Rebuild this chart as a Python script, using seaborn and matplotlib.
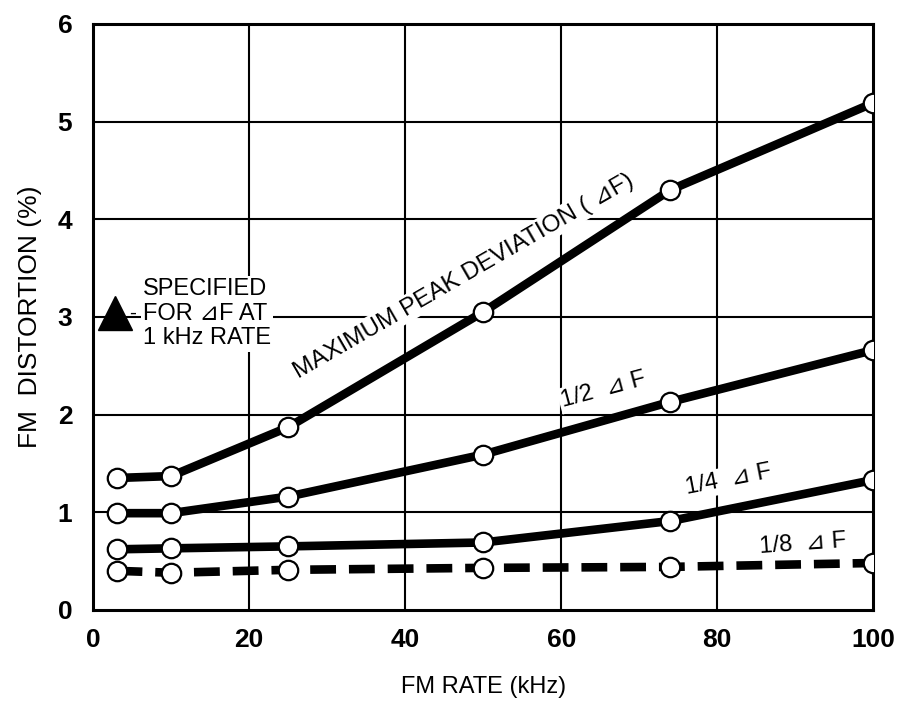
import matplotlib
matplotlib.use("Agg")
import matplotlib.pyplot as plt
import seaborn as sns
import pandas as pd

# FM distortion vs. FM rate for several deviation levels
rates = [3, 10, 25, 50, 74, 100]
max_dev = [1.35, 1.37, 1.87, 3.05, 4.30, 5.19]
half_dev = [0.99, 0.99, 1.16, 1.59, 2.13, 2.66]
quarter_dev = [0.62, 0.63, 0.65, 0.69, 0.91, 1.33]
eighth_dev = [0.40, 0.38, 0.41, 0.43, 0.44, 0.48]

series_names = ["MAX", "HALF", "QUARTER", "EIGHTH"]
series_values = [max_dev, half_dev, quarter_dev, eighth_dev]

x_ticks = [0, 20, 40, 60, 80, 100]
y_ticks = [0, 1, 2, 3, 4, 5, 6]

spec_rate = [2.8]
spec_value = [3.04]

sns.set_theme(style="white")
FONT = ["Liberation Sans", "DejaVu Sans"]
plt.rcParams["font.family"] = FONT
plt.rcParams["text.color"] = "black"
plt.rcParams["axes.labelcolor"] = "black"

frames = []
for name, vals in zip(series_names, series_values):
    frames.append(pd.DataFrame({"rate": rates, "distortion": vals, "series": name}))
df = pd.concat(frames, ignore_index=True)

fig = plt.figure(figsize=(9.04, 7.01), dpi=100)
ax = fig.add_axes([0.103, 0.130, 0.863, 0.836])

# grid lines
for gx in [20, 40, 60, 80]:
    ax.axvline(gx, color="black", lw=1.5, zorder=1)
for gy in [1, 2, 3, 4, 5]:
    ax.axhline(gy, color="black", lw=1.5, zorder=1)

# solid curves with open circle markers, dashed curve for 1/8 deviation
sns.lineplot(
    data=df, x="rate", y="distortion", hue="series", style="series",
    palette={n: "black" for n in series_names},
    dashes={"MAX": "", "HALF": "", "QUARTER": "", "EIGHTH": (3, 1.5)},
    markers={n: "o" for n in series_names},
    linewidth=6.2, markersize=14, markerfacecolor="white",
    markeredgecolor="black", markeredgewidth=1.6,
    ax=ax, legend=False, zorder=5,
)

# specification marker
ax.plot(spec_rate, spec_value, marker="^", color="black", markersize=24,
        linestyle="none", zorder=6, clip_on=False)

box = dict(facecolor="white", edgecolor="none", pad=1.5)
ax.text(6.4, 3.03, "SPECIFIED\nFOR \u22bfF AT\n1 kHz RATE", fontsize=17,
        ha="left", va="center", linespacing=1.15, bbox=box, zorder=3)
ax.text(5.1, 3.04, "-", fontsize=15, ha="center", va="center", zorder=3)
ax.text(47.5, 3.42, "MAXIMUM PEAK DEVIATION ( \u22bfF)", fontsize=17.5,
        rotation=30, rotation_mode="anchor", ha="center", va="center",
        bbox=box, zorder=3)
ax.text(65.4, 2.25, "1/2  \u22bf F", fontsize=17, rotation=15,
        rotation_mode="anchor", ha="center", va="center", bbox=box, zorder=3)
ax.text(81.4, 1.33, "1/4  \u22bf F", fontsize=17, rotation=11,
        rotation_mode="anchor", ha="center", va="center", bbox=box, zorder=3)
ax.text(91.0, 0.67, "1/8  \u22bf F", fontsize=17, rotation=4,
        rotation_mode="anchor", ha="center", va="center", bbox=box, zorder=3)

ax.set_xlim(0, 100)
ax.set_ylim(0, 6)
ax.set_xticks(x_ticks)
ax.set_yticks(y_ticks)
ax.set_xticklabels([str(t) for t in x_ticks], fontsize=19, fontweight="bold")
ax.set_yticklabels([str(t) for t in y_ticks], fontsize=19, fontweight="bold")
ax.tick_params(axis="both", length=0, colors="black")
ax.tick_params(axis="x", pad=13)
ax.tick_params(axis="y", pad=15)
ax.set_xlabel("FM RATE (kHz)", fontsize=17, labelpad=17)
ax.set_ylabel("FM  DISTORTION (%)", fontsize=19, labelpad=11)

for side in ["left", "right", "top", "bottom"]:
    ax.spines[side].set_visible(True)
    ax.spines[side].set_color("black")
    ax.spines[side].set_linewidth(2.2)

fig.savefig("out.png", dpi=100, facecolor="white")
